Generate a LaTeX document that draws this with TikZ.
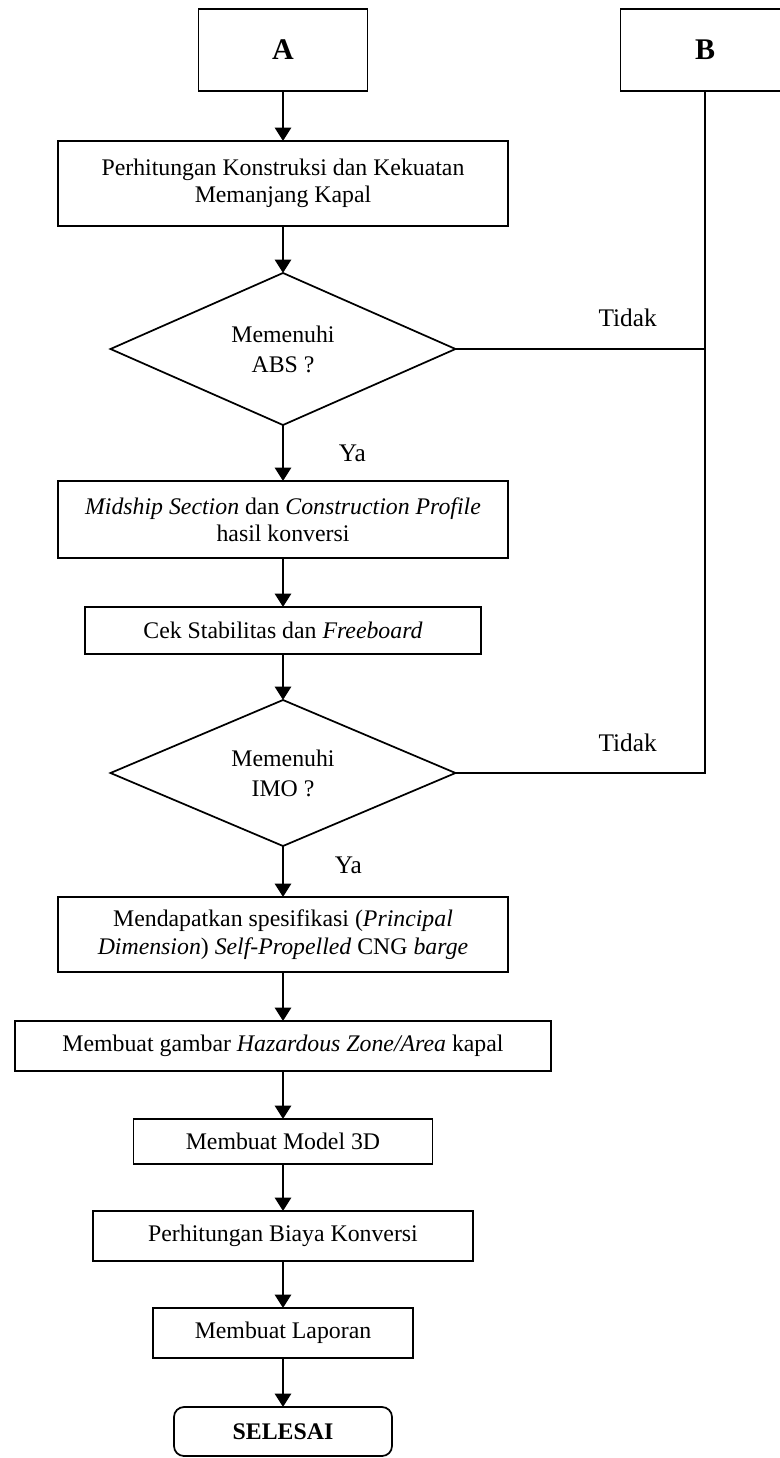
\documentclass[tikz,border=0pt]{standalone}
\usepackage{fontspec}
\setmainfont{Liberation Serif}
\usetikzlibrary{positioning, arrows.meta, shapes.geometric}

\begin{document}
\begin{tikzpicture}[
    every node/.style={font=\fontsize{17.85}{20.5}\selectfont},
    block/.style={draw=black, rectangle, line width=1.3pt, align=center,
                  inner sep=2pt, outer sep=0pt},
    decision/.style={draw=black, diamond, aspect=2.3, line width=1.3pt, align=center,
                     inner sep=0pt, outer sep=0pt, minimum width=258.75pt, minimum height=114pt,
                     font=\fontsize{17.85}{22.5}\selectfont},
    terminal/.style={block, rounded corners=7.5pt, font=\fontsize{17.85}{20.5}\selectfont\bfseries},
    letterbox/.style={block, minimum width=126.75pt, minimum height=61.5pt,
                      font=\fontsize{22.5}{26}\selectfont\bfseries},
    arrow/.style={-{Triangle[width=12pt, length=10pt]}, line width=2pt},
    link/.style={line width=1.6pt},
    answer/.style={font=\fontsize{19}{22}\selectfont},
]
\useasboundingbox (-212.25pt,37.5pt) rectangle (372.75pt,-1056pt);
\clip (-212.25pt,37.5pt) rectangle (372.75pt,-1056pt);
\node[letterbox] (n_a) at (0,0) {A};
\node[letterbox] (n_b) at (316.5pt,0) {B};
\node[block, minimum width=337.5pt, minimum height=63.75pt, below=37.5pt of n_a] (n_1) {Perhitungan Konstruksi dan Kekuatan\\Memanjang Kapal};
\node[decision, below=35.25pt of n_1] (n_2) {Memenuhi\\ABS ?};
\node[block, minimum width=337.5pt, minimum height=57.75pt, below=42pt of n_2] (n_3) {\textit{Midship Section} dan \textit{Construction Profile}\\hasil konversi};
\node[block, minimum width=297pt, minimum height=35.25pt, below=36.75pt of n_3] (n_4) {Cek Stabilitas dan \textit{Freeboard}};
\node[decision, minimum height=109.5pt, below=34.5pt of n_4] (n_5) {Memenuhi\\IMO ?};
\node[block, minimum width=337.5pt, minimum height=56.25pt, below=38.25pt of n_5] (n_6) {Mendapatkan spesifikasi (\textit{Principal}\\\textit{Dimension}) \textit{Self-Propelled} CNG \textit{barge}};
\node[block, minimum width=402pt, minimum height=37.5pt, below=36.75pt of n_6] (n_7) {Membuat gambar \textit{Hazardous Zone/Area} kapal};
\node[block, minimum width=224.25pt, minimum height=33.75pt, below=36pt of n_7] (n_8) {Membuat Model 3D};
\node[block, minimum width=285pt, minimum height=37.5pt, below=35.25pt of n_8] (n_9) {Perhitungan Biaya Konversi};
\node[block, minimum width=195pt, minimum height=37.5pt, below=35.25pt of n_9] (n_10) {Membuat Laporan};
\node[terminal, minimum width=163.5pt, minimum height=36.75pt, below=36.75pt of n_10] (n_11) {SELESAI};
\draw[arrow] (n_a) -- (n_1);
\draw[arrow] (n_1) -- (n_2);
\draw[arrow] (n_2) -- node[answer, xshift=52pt] {Ya} (n_3);
\draw[arrow] (n_3) -- (n_4);
\draw[arrow] (n_4) -- (n_5);
\draw[arrow] (n_5) -- node[answer, xshift=49pt, yshift=5pt] {Ya} (n_6);
\draw[arrow] (n_6) -- (n_7);
\draw[arrow] (n_7) -- (n_8);
\draw[arrow] (n_8) -- (n_9);
\draw[arrow] (n_9) -- (n_10);
\draw[arrow] (n_10) -- (n_11);
\draw[link] (n_2.east) -- node[answer, pos=0.69, yshift=23pt] {Tidak} (n_2.east -| n_b.south);
\draw[link] (n_5.east) -- node[answer, pos=0.69, yshift=23pt] {Tidak} (n_5.east -| n_b.south) -- (n_b.south);
\end{tikzpicture}
\end{document}
